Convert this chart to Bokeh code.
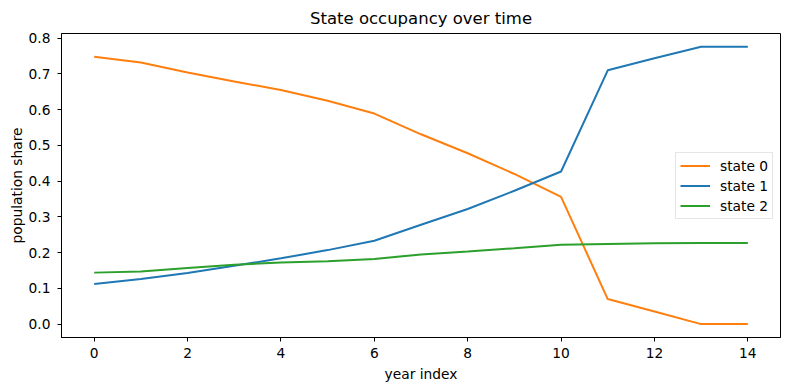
from bokeh.plotting import figure
from bokeh.models import FixedTicker, PrintfTickFormatter, Range1d, Legend, LegendItem
from bokeh.embed import file_html
from bokeh.resources import INLINE

years = list(range(15))
state0 = [0.748, 0.732, 0.704, 0.679, 0.655, 0.625, 0.589, 0.531, 0.478, 0.420, 0.356, 0.070, 0.035, 0.0, 0.0]
state1 = [0.112, 0.126, 0.143, 0.163, 0.184, 0.207, 0.233, 0.278, 0.322, 0.373, 0.427, 0.710, 0.744, 0.776, 0.776]
state2 = [0.144, 0.147, 0.157, 0.166, 0.172, 0.176, 0.182, 0.195, 0.203, 0.212, 0.222, 0.224, 0.226, 0.227, 0.227]
series_names = ["state 0", "state 1", "state 2"]
colors = ["#ff7f0e", "#1f77b4", "#2ca02c"]
x_ticks = [0, 2, 4, 6, 8, 10, 12, 14]
y_ticks = [0.0, 0.1, 0.2, 0.3, 0.4, 0.5, 0.6, 0.7, 0.8]

FONT = "DejaVu Sans"

p = figure(frame_width=719, frame_height=304, output_backend="svg", toolbar_location=None,
           x_range=Range1d(-0.7, 14.7), y_range=Range1d(-0.0375, 0.813),
           min_border_left=61, min_border_right=9, min_border_top=33, min_border_bottom=52)

p.title.text = "State occupancy over time"
p.title.align = "center"
p.title.text_font = FONT
p.title.text_font_size = "16.5px"
p.title.text_font_style = "normal"
p.title.text_color = "black"
p.title.standoff = 12

p.xgrid.visible = False
p.ygrid.visible = False
p.outline_line_color = "black"
p.outline_line_width = 1
p.background_fill_color = "white"
p.border_fill_color = "white"

for ax in (p.xaxis[0], p.yaxis[0]):
    ax.major_label_text_font = FONT
    ax.major_label_text_font_size = "13.8px"
    ax.major_label_text_color = "black"
    ax.axis_label_text_font = FONT
    ax.axis_label_text_font_size = "13.8px"
    ax.axis_label_text_font_style = "normal"
    ax.axis_label_text_color = "black"
    ax.minor_tick_line_color = None
    ax.major_tick_out = 4
    ax.major_tick_in = 0
    ax.axis_line_color = "black"
    ax.major_tick_line_color = "black"

p.xaxis.ticker = FixedTicker(ticks=x_ticks)
p.yaxis.ticker = FixedTicker(ticks=y_ticks)
p.yaxis.formatter = PrintfTickFormatter(format="%.1f")
p.xaxis.axis_label = "year index"
p.yaxis.axis_label = "population share"
p.xaxis.major_label_standoff = 6
p.xaxis.axis_label_standoff = 5
p.yaxis.major_label_standoff = 7
p.yaxis.axis_label_standoff = 1

items = []
for name, vals, c in zip(series_names, [state0, state1, state2], colors):
    r = p.line(years, vals, line_color=c, line_width=2)
    items.append(LegendItem(label=name, renderers=[r]))

legend = Legend(items=items, location=(614, 118))
legend.label_text_font = FONT
legend.label_text_font_size = "13.8px"
legend.label_text_color = "black"
legend.border_line_color = "#cccccc"
legend.border_line_width = 1
legend.background_fill_alpha = 0.8
legend.glyph_width = 30
legend.glyph_height = 17
legend.label_height = 17
legend.spacing = 3
legend.padding = 4
legend.margin = 0
legend.label_standoff = 10
p.add_layout(legend, "center")

open("out.html", "w").write(file_html(p, INLINE))
